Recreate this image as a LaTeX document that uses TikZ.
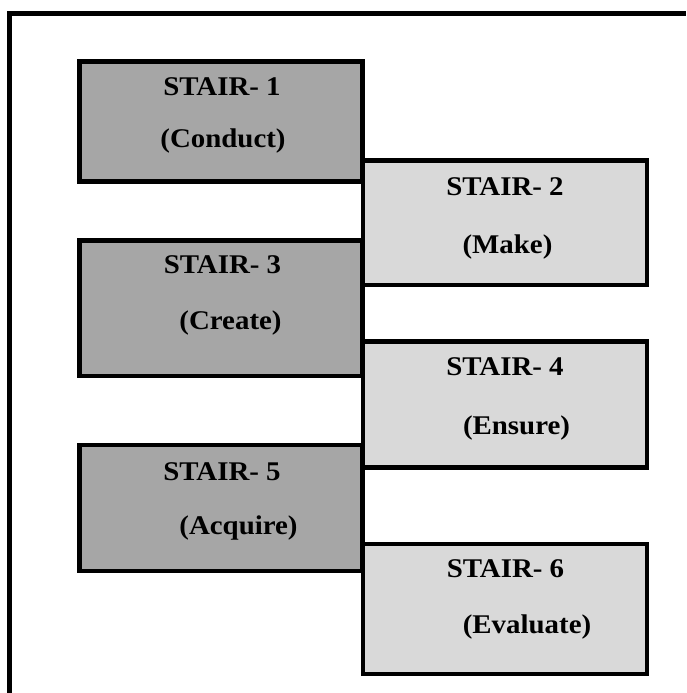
\documentclass[tikz,border=0pt]{standalone}
\usepackage{fontspec}
\setmainfont{Liberation Serif}[FakeStretch=1.07]
\definecolor{darkfill}{HTML}{A6A6A6}
\definecolor{lightfill}{HTML}{D9D9D9}
\begin{document}
\begin{tikzpicture}[x=1pt,y=-1pt,
  stairbox/.style={draw=black,line width=4.5pt,rectangle,inner sep=0pt,outer sep=0pt},
  darkstair/.style={stairbox,fill=darkfill,minimum width=283pt},
  lightstair/.style={stairbox,fill=lightfill,minimum width=284pt},
  lbl/.style={anchor=base,inner sep=0pt,font=\fontsize{27}{32}\selectfont\bfseries}]
\useasboundingbox (0,0) rectangle (686,693);
\coordinate (fa) at (9.5,693);
\coordinate (fb) at (9.5,13.5);
\coordinate (fc) at (686,13.5);
\draw[line width=4.5pt] (fa) -- (fb) -- (fc);
% dark stairs
\node[darkstair,minimum height=120pt] (b1) at (221,121.5) {};
\node[darkstair,minimum height=135.5pt] (b3) at (221,308.25) {};
\node[darkstair,minimum height=126pt] (b5) at (221,508) {};
% light stairs
\node[lightstair,minimum height=124.5pt] (b2) at (505,222.75) {};
\node[lightstair,minimum height=126pt] (b4) at (505,404.5) {};
\node[lightstair,minimum height=130pt] (b6) at (505,609) {};
% labels
\node[lbl] (t1a) at (222,95) {STAIR- 1};
\node[lbl] (t1b) at (223,147) {(Conduct)};
\node[lbl] (t2a) at (505,195) {STAIR- 2};
\node[lbl] (t2b) at (507.5,253) {(Make)};
\node[lbl] (t3a) at (222.5,273) {STAIR- 3};
\node[lbl] (t3b) at (230.5,329) {(Create)};
\node[lbl] (t4a) at (505,375) {STAIR- 4};
\node[lbl] (t4b) at (516.5,434) {(Ensure)};
\node[lbl] (t5a) at (222,480) {STAIR- 5};
\node[lbl] (t5b) at (238.5,534) {(Acquire)};
\node[lbl] (t6a) at (505.5,577) {STAIR- 6};
\node[lbl] (t6b) at (527,633) {(Evaluate)};
\end{tikzpicture}
\end{document}
